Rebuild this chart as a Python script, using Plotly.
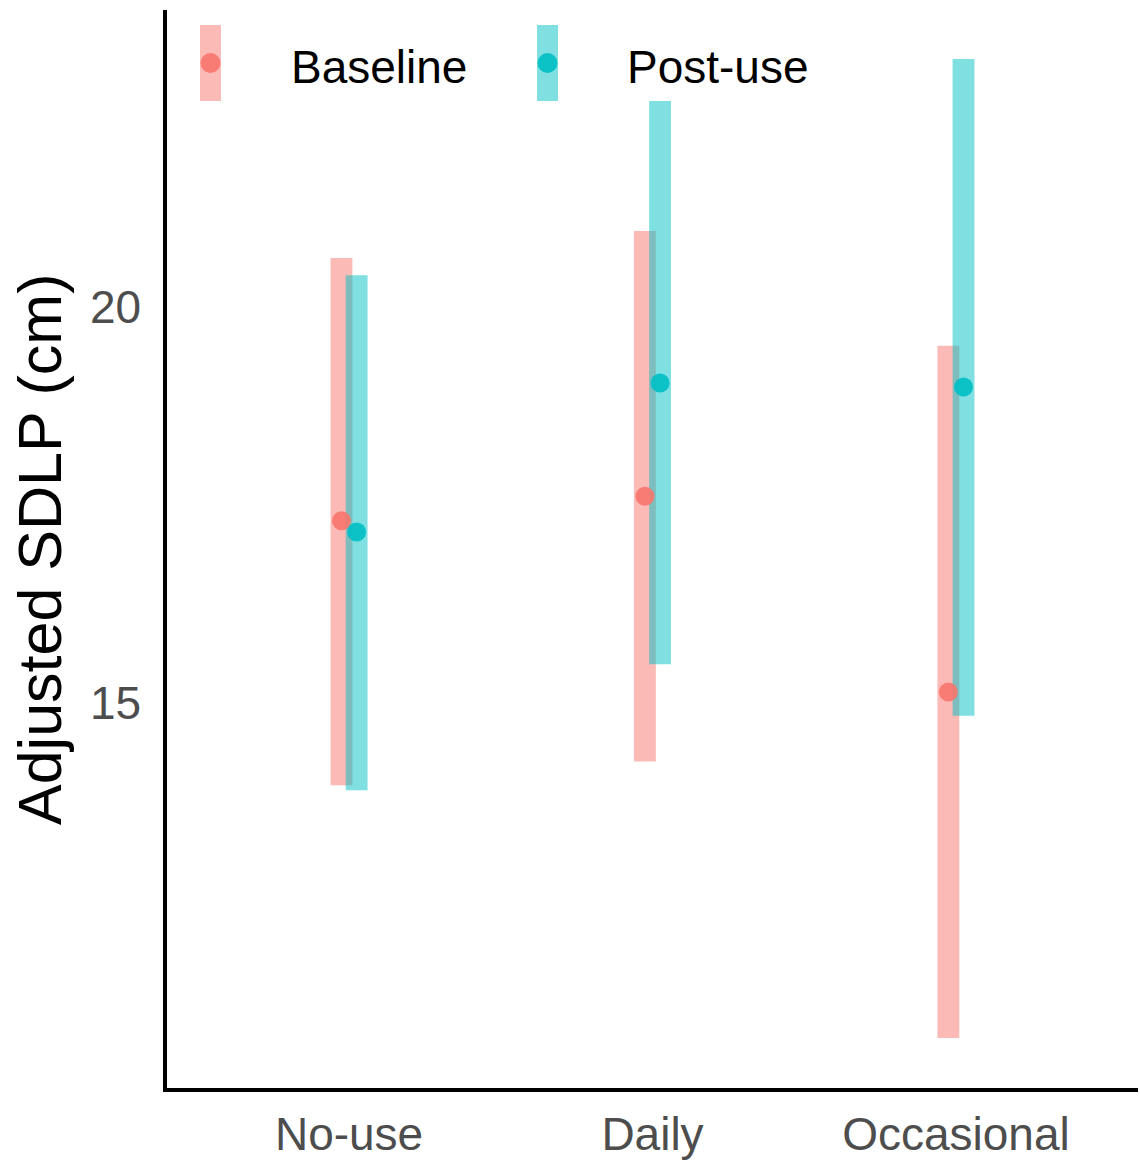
import plotly.graph_objects as go

# ---- data ----
categories = ["No-use", "Daily", "Occasional"]
groups = ["Baseline", "Post-use"]
baseline_mean = [17.30, 17.61, 15.14]
baseline_low = [13.96, 14.26, 10.77]
baseline_high = [20.62, 20.96, 19.51]
post_mean = [17.16, 19.04, 18.99]
post_low = [13.90, 15.49, 14.84]
post_high = [20.40, 22.60, 23.13]
y_ticks = [15, 20]

colors = {"Baseline": "#F8766D", "Post-use": "#00BFC4"}
dodge = {"Baseline": -0.025, "Post-use": 0.025}
series = {
    "Baseline": (baseline_mean, baseline_low, baseline_high),
    "Post-use": (post_mean, post_low, post_high),
}

W, H = 1140, 1165
ml, mr, mt, mb = 167, 2, 10, 77
pw, ph = W - ml - mr, H - mt - mb

fig = go.Figure()
cat_idx = list(range(1, len(categories) + 1))
for g in groups:
    m, lo, hi = series[g]
    xs = [i + dodge[g] for i in cat_idx]
    fig.add_trace(go.Bar(
        x=xs, y=[h - l for h, l in zip(hi, lo)], base=lo, width=0.072,
        marker=dict(color=colors[g], line=dict(width=0)), opacity=0.5,
        showlegend=False, name=g))
for g in groups:
    m, lo, hi = series[g]
    xs = [i + dodge[g] for i in cat_idx]
    fig.add_trace(go.Scatter(
        x=xs, y=m, mode="markers",
        marker=dict(color=colors[g], size=19, opacity=0.9, line=dict(width=0)),
        showlegend=False, name=g))

fig.update_layout(
    width=W, height=H, margin=dict(l=ml, r=mr, t=mt, b=mb, autoexpand=False),
    plot_bgcolor="white", paper_bgcolor="white", barmode="overlay",
    font=dict(family="Liberation Sans, Arial, sans-serif"),
)
fig.update_xaxes(
    range=[0.4, 3.6], tickvals=cat_idx, ticktext=categories,
    showgrid=False, zeroline=False, showline=True, linecolor="black", linewidth=3.5,
    ticks="", ticklabelstandoff=3,
    tickfont=dict(size=46, color="#4D4D4D"),
)
fig.update_yaxes(
    range=[10.139, 23.75], tickvals=y_ticks, ticktext=[str(t) for t in y_ticks],
    showgrid=False, zeroline=False, showline=True, linecolor="black", linewidth=3.5,
    ticks="", ticklabelstandoff=13,
    tickfont=dict(size=46, color="#4D4D4D"),
)

# y title
fig.add_annotation(text="Adjusted SDLP (cm)", textangle=-90, showarrow=False,
                   xref="paper", yref="paper", x=(40 - ml) / pw, y=(H - mb - 550) / ph,
                   xanchor="center", yanchor="middle",
                   font=dict(size=61, color="black"))

# manual legend
def px_x(x):
    return (x - ml) / pw

def px_y(y):
    return (H - mb - y) / ph

legend_pos = {"Baseline": (210.5, 289), "Post-use": (547.5, 625)}
for g in groups:
    cx, tx = legend_pos[g]
    fig.add_shape(type="rect", xref="paper", yref="paper",
                  x0=px_x(cx - 10.5), x1=px_x(cx + 10.5), y0=px_y(101), y1=px_y(25),
                  fillcolor=colors[g], opacity=0.5, line=dict(width=0))
    fig.add_shape(type="circle", xref="paper", yref="paper",
                  x0=px_x(cx - 10), x1=px_x(cx + 10), y0=px_y(73), y1=px_y(53),
                  fillcolor=colors[g], opacity=0.9, line=dict(width=0))
    fig.add_annotation(text=g, showarrow=False, xref="paper", yref="paper",
                       x=px_x(tx), y=px_y(67), xanchor="left", yanchor="middle",
                       font=dict(size=46, color="black"))

fig.write_html("out.html", config={"displayModeBar": False},
               post_script="document.body.style.margin='0';document.body.style.overflow='hidden';")
